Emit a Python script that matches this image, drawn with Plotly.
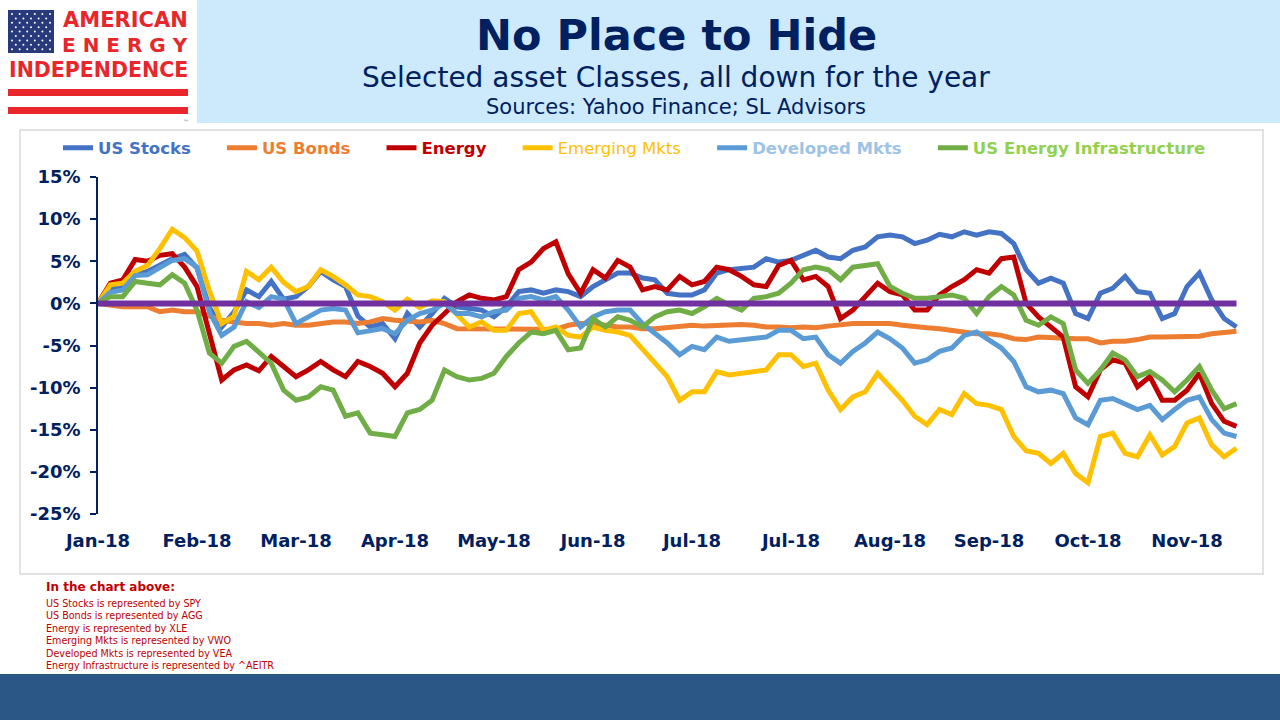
import plotly.graph_objects as go

# pixel layout of the slide (1280 x 720)
W, H = 1280, 720
ML, MR, MT, MB = 20, 17, 130, 206          # paper area = chart frame region
AX_L, AX_R, AX_T = 98, 1241, 177           # plotting axes inside the frame
PAPER_W = W - ML - MR
PAPER_H = H - MT - MB
BOTTOM = H - MB


def px(x):
    return (x - ML) / PAPER_W


def py(y):
    return (BOTTOM - y) / PAPER_H


NAVY = "#002060"
FONT = "DejaVu Sans"

# ---- data (cumulative % change, 2018 YTD) ----
us_stocks = [
    0, 1.8, 2.0, 3.4, 3.8, 4.5, 5.3, 5.8, 4.2, -0.5, -2.8, -1.0, 1.6, 0.8, 2.6, 0.5,
    0.8, 2.0, 3.8, 2.8, 2.0, -1.5, -2.8, -2.4, -4.2, -1.2, -2.8, -1.2, 0.6, -0.4, -0.6, -0.8,
    -1.6, -0.4, 1.4, 1.6, 1.2, 1.6, 1.4, 0.8, 2.0, 2.8, 3.6, 3.6, 3.0, 2.8, 1.2, 1.0,
    1.0, 1.6, 3.6, 4.0, 4.2, 4.3, 5.3, 4.9, 5.1, 5.7, 6.3, 5.5, 5.3, 6.3, 6.7, 7.9,
    8.1, 7.9, 7.1, 7.5, 8.2, 7.9, 8.5, 8.1, 8.5, 8.3, 7.1, 4.0, 2.4, 3.0, 2.4,
    -1.2, -1.8, 1.2, 1.8, 3.2, 1.4, 1.2, -1.8, -1.2, 2.0, 3.6, 0.4, -1.8, -2.8,
]
us_bonds = [
    0, -0.2, -0.4, -0.4, -0.4, -1.0, -0.8, -1.0, -1.0, -1.5, -2.0, -2.2, -2.4, -2.4, -2.6, -2.4,
    -2.6, -2.6, -2.4, -2.2, -2.2, -2.4, -2.2, -1.8, -2.0, -2.1, -2.2, -2.0, -2.4, -3.0, -3.0, -3.0,
    -3.0, -3.0, -3.0, -3.0, -3.0, -3.1, -2.6, -2.4, -2.4, -2.6, -2.8, -2.8, -3.0, -3.0, -2.9, -2.8,
    -2.6, -2.7, -2.6, -2.5, -2.5, -2.6, -2.8, -2.8, -2.9, -2.8, -2.9, -2.7, -2.5, -2.4, -2.4, -2.4,
    -2.4, -2.6, -2.8, -2.9, -3.0, -3.2, -3.4, -3.6, -3.6, -3.8, -4.2, -4.3, -4.0, -4.1, -4.1,
    -4.2, -4.2, -4.7, -4.5, -4.5, -4.3, -4.0, -4.0, -4.0, -4.0, -3.9, -3.6, -3.4, -3.3,
]
energy = [
    0, 2.4, 2.8, 5.2, 5.0, 5.7, 5.9, 4.3, 2.0, -3.5, -9.1, -7.9, -7.3, -8.0, -6.3, -7.5,
    -8.7, -7.9, -6.9, -7.9, -8.7, -6.9, -7.5, -8.3, -9.9, -8.3, -4.7, -2.6, -1.2, 0.2, 1.0, 0.6,
    0.4, 0.8, 4.0, 4.9, 6.5, 7.3, 3.5, 1.2, 4.0, 3.0, 5.1, 4.3, 1.6, 2.0, 1.6, 3.2,
    2.2, 2.6, 4.3, 4.0, 3.2, 2.2, 2.0, 4.5, 5.1, 2.8, 3.2, 2.0, -1.8, -0.8, 0.8, 2.4,
    1.4, 1.0, -0.8, -0.8, 1.0, 2.0, 2.8, 4.0, 3.6, 5.3, 5.5, 0.0, -1.6, -2.8, -4.0,
    -9.9, -11.1, -7.9, -6.7, -7.1, -9.9, -8.7, -11.5, -11.5, -10.3, -8.3, -11.9, -14.0, -14.6,
]
emerging = [
    0, 2.2, 2.4, 3.8, 4.5, 6.5, 8.8, 7.8, 6.2, 1.5, -2.4, -1.5, 3.8, 2.8, 4.3, 2.5,
    1.4, 2.0, 4.0, 3.2, 2.2, 1.0, 0.8, 0.2, -0.8, 0.5, -0.5, 0.3, 0.2, -1.2, -2.8, -2.2,
    -3.2, -3.2, -1.2, -1.0, -3.2, -2.8, -3.8, -4.0, -2.8, -3.2, -3.4, -3.8, -5.5, -7.1, -8.7, -11.5,
    -10.5, -10.5, -8.1, -8.5, -8.3, -8.1, -7.9, -6.1, -6.1, -7.5, -7.1, -10.3, -12.6, -11.1, -10.5, -8.3,
    -9.9, -11.5, -13.4, -14.4, -12.6, -13.2, -10.7, -11.9, -12.1, -12.6, -15.8, -17.5, -17.8, -19.0, -17.8,
    -20.2, -21.3, -15.8, -15.4, -17.8, -18.2, -15.6, -18.0, -17.0, -14.2, -13.6, -16.8, -18.2, -17.2,
]
developed = [
    0, 1.3, 1.6, 3.3, 3.4, 4.3, 5.1, 5.3, 4.3, -1.0, -3.8, -2.8, 0.2, -0.5, 0.8, 0.5,
    -2.4, -1.6, -0.8, -0.6, -0.8, -3.5, -3.2, -3.0, -3.6, -2.0, -1.2, -0.8, 0.0, -1.2, -1.2, -1.6,
    -1.0, -0.8, 0.6, 0.8, 0.4, 0.8, -0.8, -2.8, -1.6, -1.0, -0.8, -0.8, -2.4, -3.6, -4.7, -6.1,
    -5.1, -5.5, -4.0, -4.5, -4.3, -4.2, -4.0, -3.2, -3.2, -4.2, -4.0, -6.1, -7.1, -5.7, -4.7, -3.4,
    -4.2, -5.3, -7.1, -6.7, -5.7, -5.3, -3.8, -3.4, -4.3, -5.3, -6.9, -9.9, -10.5, -10.3, -10.7,
    -13.6, -14.4, -11.5, -11.3, -11.9, -12.6, -12.1, -13.8, -12.6, -11.5, -11.1, -13.8, -15.4, -15.8,
]
infrastructure = [
    0, 0.8, 0.8, 2.6, 2.4, 2.2, 3.4, 2.4, -0.8, -5.9, -7.1, -5.1, -4.5, -5.9, -7.1, -10.3,
    -11.5, -11.1, -9.9, -10.3, -13.4, -13.0, -15.4, -15.6, -15.8, -13.0, -12.6, -11.5, -7.9, -8.7, -9.1, -8.9,
    -8.3, -6.3, -4.7, -3.4, -3.6, -3.2, -5.5, -5.3, -1.8, -2.8, -1.6, -2.0, -2.8, -1.6, -1.0, -0.8,
    -1.2, -0.4, 0.6, -0.2, -0.8, 0.6, 0.8, 1.2, 2.4, 4.0, 4.3, 4.0, 2.8, 4.3, 4.5, 4.7,
    2.0, 1.2, 0.6, 0.6, 0.8, 1.0, 0.6, -1.2, 0.8, 2.0, 1.0, -2.0, -2.6, -1.6, -2.4,
    -7.9, -9.5, -7.9, -5.9, -6.7, -8.7, -8.1, -9.1, -10.5, -9.1, -7.5, -10.3, -12.5, -11.9,
]
baseline = [0.0] * len(us_stocks)

month_labels = ["Jan-18", "Feb-18", "Mar-18", "Apr-18", "May-18", "Jun-18",
                "Jul-18", "Jul-18", "Aug-18", "Sep-18", "Oct-18", "Nov-18"]
y_tick_vals = [15, 10, 5, 0, -5, -10, -15, -20, -25]
y_tick_text = ["15%", "10%", "5%", "0%", "-5%", "-10%", "-15%", "-20%", "-25%"]

x_idx = list(range(len(us_stocks)))
POINTS_PER_LABEL = 8

series = [
    ("US Stocks", us_stocks, "#4472C4", "#4472C4", True),
    ("US Bonds", us_bonds, "#ED7D31", "#ED7D31", True),
    ("Energy", energy, "#C00000", "#C00000", True),
    ("Emerging Mkts", emerging, "#FFC000", "#FFC000", False),
    ("Developed Mkts", developed, "#5B9BD5", "#9DC3E6", True),
    ("US Energy Infrastructure", infrastructure, "#70AD47", "#92D050", True),
]

fig = go.Figure()
for i, (name, vals, line_col, text_col, bold) in enumerate(series):
    label = f"<b>{name}</b>" if bold else name
    pad = "\u00a0" * (5 if i < len(series) - 1 else 0)   # widen gaps between legend items
    fig.add_trace(go.Scatter(
        x=x_idx, y=vals, mode="lines",
        name=f"<span style='color:{text_col}'>{label}</span>" + pad,
        line=dict(color=line_col, width=5),
        hovertemplate=name + ": %{y:.1f}%<extra></extra>",
    ))

fig.add_trace(go.Scatter(
    x=x_idx, y=baseline, mode="lines", showlegend=False,
    line=dict(color="#7030A0", width=6), hoverinfo="skip",
))

shapes = []
# header banner, chart frame, footer bar
shapes.append(dict(type="rect", xref="paper", yref="paper", layer="below",
                   x0=px(197), x1=px(1280), y0=py(0), y1=py(123),
                   fillcolor="#CCEAFB", line_width=0))
shapes.append(dict(type="rect", xref="paper", yref="paper", layer="below",
                   x0=px(20), x1=px(1263), y0=py(130), y1=py(574),
                   fillcolor="rgba(0,0,0,0)", line=dict(color="#D9D9D9", width=1.5)))
shapes.append(dict(type="rect", xref="paper", yref="paper", layer="below",
                   x0=px(0), x1=px(1280), y0=py(674), y1=py(720),
                   fillcolor="#2A5786", line_width=0))

# logo: flag block and red stripes
shapes.append(dict(type="rect", xref="paper", yref="paper",
                   x0=px(8), x1=px(54), y0=py(10), y1=py(53),
                   fillcolor="#283A7B", line_width=0))
for top, bottom in [(89, 96), (107, 114)]:
    shapes.append(dict(type="rect", xref="paper", yref="paper",
                       x0=px(8), x1=px(188), y0=py(top), y1=py(bottom),
                       fillcolor="#E8262B", line_width=0))
for row in range(9):
    cols = 6 if row % 2 == 0 else 5
    offset = 0 if row % 2 == 0 else 3.8
    for col in range(cols):
        cx = 12 + offset + col * 7.6
        cy = 14 + row * 4.4
        shapes.append(dict(type="circle", xref="paper", yref="paper",
                           x0=px(cx - 1), x1=px(cx + 1), y0=py(cy - 1), y1=py(cy + 1),
                           fillcolor="white", line_width=0))

annotations = []


def note(text, x, y, size, color, xanchor="center", bold=False, family=FONT):
    annotations.append(dict(
        text=f"<b>{text}</b>" if bold else text, x=px(x), y=py(y),
        xref="paper", yref="paper", xanchor=xanchor, yanchor="middle",
        showarrow=False, align="left",
        font=dict(size=size, color=color, family=family),
    ))


note("No Place to Hide", 676, 35, 43, NAVY, bold=True)
note("Selected asset Classes, all down for the year", 676, 78, 28, NAVY)
note("Sources: Yahoo Finance; SL Advisors", 676, 107, 21, NAVY)

note("AMERICAN", 125, 20, 21, "#E8262B", bold=True)
note("E N E R G Y", 125, 45, 20, "#E8262B", bold=True)
note("INDEPENDENCE", 98, 70, 20.5, "#E8262B", bold=True)
note("\u2122", 186, 121, 6, "#666666")

note("In the chart above:", 44, 587, 12, "#C00000", xanchor="left", bold=True)
note("US Stocks is represented by SPY<br>"
     "US Bonds is represented by AGG<br>"
     "Energy is represented by XLE<br>"
     "Emerging Mkts is represented by VWO<br>"
     "Developed Mkts is represented by VEA<br>"
     "Energy Infrastructure is represented by ^AEITR",
     44, 634, 9.6, "#C00000", xanchor="left")

fig.update_layout(
    width=W, height=H,
    margin=dict(l=ML, r=MR, t=MT, b=MB),
    paper_bgcolor="white", plot_bgcolor="rgba(0,0,0,0)",
    font=dict(family=FONT, color=NAVY),
    showlegend=True,
    legend=dict(
        orientation="h", x=px(58), y=py(148), xanchor="left", yanchor="middle",
        font=dict(size=16.5, family=FONT), bgcolor="rgba(0,0,0,0)",
        itemclick=False, itemdoubleclick=False,
    ),
    xaxis=dict(
        domain=[px(AX_L), px(AX_R)], automargin=False,
        range=[0, (AX_R - AX_L) / 99 * POINTS_PER_LABEL],
        tickmode="array", tickvals=x_idx[::POINTS_PER_LABEL], ticktext=month_labels,
        showgrid=False, zeroline=False, showline=False, ticks="",
        tickfont=dict(size=18, color=NAVY, family=FONT, weight="bold"),
        ticklabelstandoff=14,
    ),
    yaxis=dict(
        domain=[0, py(AX_T)], automargin=False,
        range=[-25, 15], tickmode="array", tickvals=y_tick_vals, ticktext=y_tick_text,
        showgrid=False, zeroline=False, showline=True, linecolor=NAVY, linewidth=1.5,
        ticks="outside", ticklen=6, tickcolor=NAVY, tickwidth=1.5,
        tickfont=dict(size=18, color=NAVY, family=FONT, weight="bold"),
        ticklabelstandoff=6,
    ),
    shapes=shapes,
    annotations=annotations,
)

fig.write_html("out.html", config={"displayModeBar": False},
               post_script="document.body.style.margin = '0px';")
